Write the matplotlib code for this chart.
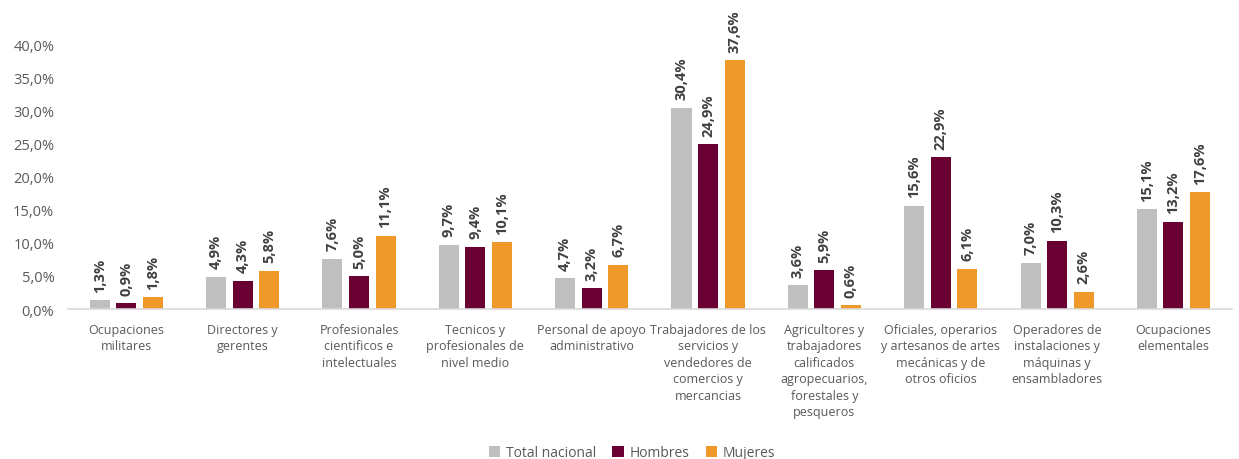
import matplotlib.pyplot as plt
import numpy as np
from matplotlib.ticker import FuncFormatter

categorias = [
    "Ocupaciones\nmilitares",
    "Directores y\ngerentes",
    "Profesionales\ncientificos e\nintelectuales",
    "Tecnicos y\nprofesionales de\nnivel medio",
    "Personal de apoyo\nadministrativo",
    "Trabajadores de los\nservicios y\nvendedores de\ncomercios y\nmercancias",
    "Agricultores y\ntrabajadores\ncalificados\nagropecuarios,\nforestales y\npesqueros",
    "Oficiales, operarios\ny artesanos de artes\nmecánicas y de\notros oficios",
    "Operadores de\ninstalaciones y\nmáquinas y\nensambladores",
    "Ocupaciones\nelementales",
]
total = [1.3, 4.9, 7.6, 9.7, 4.7, 30.4, 3.6, 15.6, 7.0, 15.1]
hombres = [0.9, 4.3, 5.0, 9.4, 3.2, 24.9, 5.9, 22.9, 10.3, 13.2]
mujeres = [1.8, 5.8, 11.1, 10.1, 6.7, 37.6, 0.6, 6.1, 2.6, 17.6]
series = ["Total nacional", "Hombres", "Mujeres"]
colores = ["#BFBFBF", "#6B0033", "#F0992B"]

plt.rcParams['font.family'] = ['Open Sans', 'DejaVu Sans']

fig = plt.figure(figsize=(12.39, 4.6), dpi=100)
ax = fig.add_axes([0.055, 0.326, 0.939, 0.576])

x = np.arange(len(categorias))
paso = 0.228
ancho = 0.172
for i, (vals, nombre, col) in enumerate(zip([total, hombres, mujeres], series, colores)):
    pos = x + (i - 1) * paso
    ax.bar(pos, vals, width=ancho, color=col, label=nombre, zorder=2)
    for p, v in zip(pos, vals):
        ax.annotate(f"{v:.1f}%".replace(".", ","), (p, v), xytext=(0, 6),
                    textcoords="offset points", rotation=90, ha="center",
                    va="bottom", fontsize=10.5, fontweight="bold", color="#404040")

ax.set_xlim(-0.5, len(categorias) - 0.5)
ax.set_ylim(0, 40)
ax.set_yticks(np.arange(0, 41, 5))
ax.yaxis.set_major_formatter(FuncFormatter(lambda v, _: f"{v:.1f}%".replace(".", ",")))
ax.set_xticks(x)
ax.set_xticklabels(categorias, fontsize=9, color="#595959", linespacing=1.35, va="top")
ax.tick_params(axis="y", labelsize=10.5, labelcolor="#595959", length=0, pad=10)
ax.tick_params(axis="x", length=0, pad=10)
for s in ["top", "right", "left"]:
    ax.spines[s].set_visible(False)
ax.spines["bottom"].set_color("#D9D9D9")
ax.spines["bottom"].set_linewidth(1.2)

fig.legend(loc="lower center", bbox_to_anchor=(0.51, -0.03), ncol=3, frameon=False,
           fontsize=10, labelcolor="#595959", handlelength=0.8, handleheight=0.8,
           handletextpad=0.4, columnspacing=1.2)

fig.savefig("out.png", dpi=100)
